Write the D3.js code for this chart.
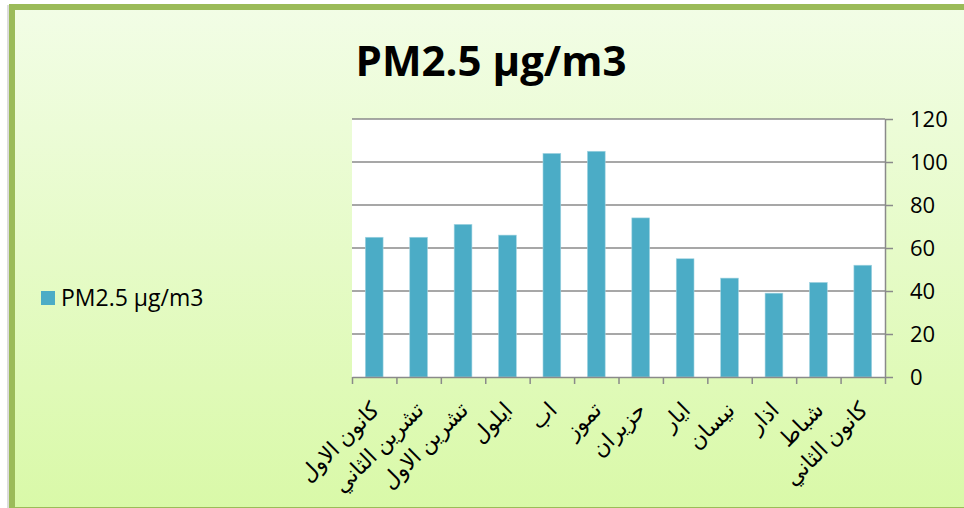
<!DOCTYPE html>
<html>
<head>
<meta charset="utf-8">
<script src="https://cdn.jsdelivr.net/npm/d3@7"></script>
<style>
  body { margin: 0; background: #ffffff; overflow: hidden; }
  svg { display: block; }
</style>
</head>
<body>
<div id="chart"></div>
<script>
// chart data
var months = ['كانون الاول', 'تشرين الثاني', 'تشرين الاول', 'ايلول', 'اب', 'تموز',
  'حزيران', 'ايار', 'نيسان', 'اذار', 'شباط', 'كانون الثاني'];
var pm25 = [65, 65, 71, 66, 104, 105, 74, 55, 46, 39, 44, 52];
var yTicks = [0, 20, 40, 60, 80, 100, 120];
var seriesName = 'PM2.5 µg/m3';

var svgWidth = 964;
var svgHeight = 508;

// plot area
var plot = { left: 352, right: 885, top: 119, bottom: 377 };

var svg = d3.select('#chart')
  .append('svg')
  .attr('width', svgWidth)
  .attr('height', svgHeight);

// background gradient for the chart frame
var defs = svg.append('defs');
var grad = defs.append('linearGradient')
  .attr('id', 'bg')
  .attr('x1', 0).attr('y1', 0)
  .attr('x2', 0).attr('y2', 1);
grad.append('stop').attr('offset', '0%').attr('stop-color', '#f2fde6');
grad.append('stop').attr('offset', '100%').attr('stop-color', '#d9f9a8');

// soft shadow on the left edge
svg.append('rect')
  .attr('x', 7).attr('y', 5)
  .attr('width', 1000).attr('height', 510)
  .attr('fill', '#dcdcdc');

// frame: the right side runs past the picture edge
svg.append('rect')
  .attr('x', 12).attr('y', 7)
  .attr('width', 1000).attr('height', 503)
  .attr('fill', 'url(#bg)')
  .attr('stroke', '#9bbb59')
  .attr('stroke-width', 6);

// title
svg.append('text')
  .attr('x', 491)
  .attr('y', 76)
  .attr('text-anchor', 'middle')
  .attr('font-family', 'Open Sans, sans-serif')
  .attr('font-weight', 'bold')
  .attr('font-size', '42px')
  .attr('fill', '#000')
  .text(seriesName);

// plot background
svg.append('rect')
  .attr('x', plot.left).attr('y', plot.top)
  .attr('width', plot.right - plot.left)
  .attr('height', plot.bottom - plot.top)
  .attr('fill', '#ffffff');

// scales
var xScale = d3.scaleBand()
  .domain(months)
  .range([plot.left, plot.right])
  .paddingInner(0.6)
  .paddingOuter(0.3);

var tickScale = d3.scaleLinear()
  .domain([0, months.length])
  .range([plot.left, plot.right]);

var yScale = d3.scaleLinear()
  .domain([0, 120])
  .range([plot.bottom, plot.top]);

// gridlines
svg.append('g')
  .selectAll('line')
  .data(yTicks.filter(d => d > 0))
  .enter()
  .append('line')
  .attr('x1', plot.left)
  .attr('x2', plot.right)
  .attr('y1', d => yScale(d))
  .attr('y2', d => yScale(d))
  .attr('stroke', '#8a8a8a')
  .attr('stroke-width', 1.5);

// bars
svg.append('g')
  .selectAll('rect')
  .data(pm25)
  .enter()
  .append('rect')
  .attr('x', (d, i) => xScale(months[i]))
  .attr('y', d => yScale(d))
  .attr('width', xScale.bandwidth())
  .attr('height', d => plot.bottom - yScale(d))
  .attr('fill', '#4bacc6')
  .attr('stroke', '#a5d5e2')
  .attr('stroke-width', 0.6);

// right y axis
var rightAxis = d3.axisRight(yScale)
  .tickValues(yTicks)
  .tickSize(8)
  .tickSizeOuter(0)
  .tickPadding(17);

var yAxis = svg.append('g')
  .attr('transform', `translate(${plot.right}, 0)`)
  .call(rightAxis);

yAxis.select('.domain').attr('stroke', '#8a8a8a').attr('stroke-width', 1.5);
yAxis.selectAll('.tick line').attr('stroke', '#8a8a8a').attr('stroke-width', 1.5);
yAxis.selectAll('.tick text')
  .attr('font-family', 'Open Sans, sans-serif')
  .attr('font-size', '22px')
  .attr('fill', '#000');

// bottom axis, ticks between categories
var bottomAxis = d3.axisBottom(tickScale)
  .tickValues(d3.range(months.length + 1))
  .tickFormat('')
  .tickSize(7)
  .tickSizeOuter(0);

var xAxis = svg.append('g')
  .attr('transform', `translate(0, ${plot.bottom})`)
  .call(bottomAxis);

xAxis.select('.domain').attr('stroke', '#8a8a8a').attr('stroke-width', 1.5);
xAxis.selectAll('.tick line').attr('stroke', '#8a8a8a').attr('stroke-width', 1.5);

// rotated month labels
svg.append('g')
  .selectAll('text')
  .data(months)
  .enter()
  .append('text')
  .attr('transform', d => `translate(${xScale(d) + xScale.bandwidth() / 2 + 1}, 406) rotate(-45)`)
  .attr('text-anchor', 'end')
  .attr('dy', '0.35em')
  .attr('font-family', 'Times New Roman, DejaVu Sans, serif')
  .attr('font-size', '22px')
  .attr('fill', '#000')
  .text(d => d);

// legend
svg.append('rect')
  .attr('x', 41).attr('y', 291)
  .attr('width', 14).attr('height', 14)
  .attr('fill', '#4bacc6');

svg.append('text')
  .attr('x', 61)
  .attr('y', 306)
  .attr('font-family', 'Open Sans, sans-serif')
  .attr('font-size', '23px')
  .attr('fill', '#000')
  .text(seriesName);
</script>
</body>
</html>
